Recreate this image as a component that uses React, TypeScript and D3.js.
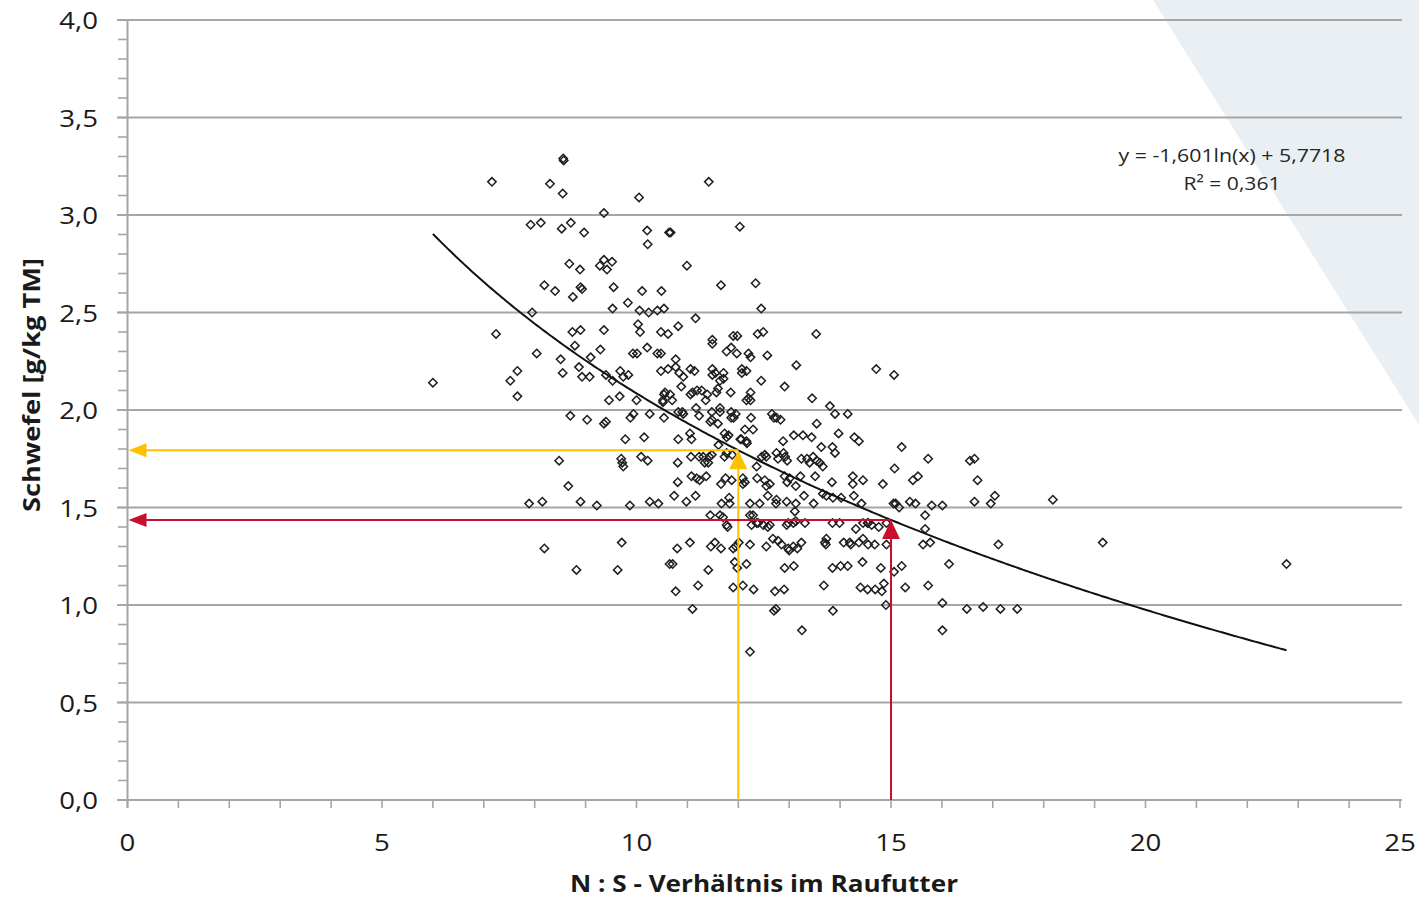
import React from "react";
import * as d3 from "d3";

// N:S ratio (x) and sulfur content g/kg TM (y)
const samples: [number, number][] = [
  [8.56,3.29],[8.57,3.28],[7.16,3.17],[8.30,3.16],[8.55,3.11],[10.05,3.09],[9.36,3.01],[7.92,2.95],[8.12,2.96],[8.53,2.93],
  [8.71,2.96],[8.97,2.91],[10.21,2.92],[10.64,2.91],[10.22,2.85],[8.68,2.75],[8.89,2.72],[9.28,2.74],[9.36,2.77],[9.52,2.76],
  [9.42,2.72],[8.19,2.64],[8.40,2.61],[8.75,2.58],[8.90,2.63],[8.93,2.62],[9.55,2.63],[10.11,2.61],[10.49,2.61],[9.83,2.55],
  [9.53,2.52],[10.06,2.51],[10.24,2.50],[10.41,2.51],[10.54,2.52],[7.95,2.50],[7.24,2.39],[8.74,2.40],[8.90,2.41],[9.36,2.41],
  [10.03,2.44],[10.07,2.40],[10.48,2.40],[10.62,2.39],[8.79,2.33],[8.04,2.29],[8.51,2.26],[9.10,2.27],[9.29,2.31],[9.93,2.29],
  [10.01,2.29],[10.21,2.32],[10.41,2.29],[10.48,2.29],[6.00,2.14],[7.66,2.20],[7.52,2.15],[7.66,2.07],[8.55,2.19],[8.87,2.22],
  [8.93,2.17],[9.08,2.17],[9.40,2.18],[9.53,2.15],[9.68,2.20],[9.74,2.17],[9.84,2.18],[10.48,2.20],[10.62,2.21],[9.46,2.05],
  [9.67,2.07],[10.00,2.05],[10.54,2.08],[10.52,2.04],[8.70,1.97],[9.03,1.95],[9.36,1.93],[9.40,1.94],[9.88,1.96],[9.94,1.98],
  [10.26,1.98],[10.54,1.96],[9.78,1.85],[10.15,1.86],[8.48,1.74],[9.70,1.75],[9.72,1.73],[9.74,1.71],[10.09,1.76],[10.22,1.74],
  [8.66,1.61],[7.89,1.52],[8.15,1.53],[8.90,1.53],[9.22,1.51],[9.87,1.51],[10.26,1.53],[10.43,1.52],[8.19,1.29],[8.82,1.18],
  [9.71,1.32],[9.63,1.18],[10.65,1.21],[11.42,3.17],[10.67,2.91],[12.03,2.94],[10.99,2.74],[11.66,2.64],[12.34,2.65],[12.45,2.52],
  [11.16,2.47],[10.82,2.43],[11.90,2.38],[11.98,2.38],[12.38,2.39],[12.49,2.40],[13.53,2.39],[11.49,2.36],[11.49,2.34],[11.86,2.32],
  [11.77,2.30],[11.97,2.29],[12.20,2.29],[12.24,2.27],[12.57,2.28],[10.77,2.26],[13.14,2.23],[14.71,2.21],[15.06,2.18],[10.77,2.22],
  [10.84,2.19],[11.06,2.21],[11.14,2.20],[10.92,2.17],[11.49,2.21],[11.49,2.18],[11.55,2.19],[11.71,2.19],[11.71,2.16],[12.07,2.21],
  [12.07,2.19],[12.16,2.20],[12.45,2.15],[12.91,2.12],[10.88,2.12],[11.64,2.15],[10.56,2.09],[10.52,2.05],[10.66,2.08],[10.70,2.05],
  [11.06,2.08],[11.10,2.09],[11.19,2.10],[11.28,2.10],[11.39,2.08],[11.36,2.05],[11.60,2.11],[11.57,2.09],[11.85,2.09],[12.24,2.09],
  [12.20,2.06],[12.16,2.05],[12.24,2.05],[13.45,2.06],[13.80,2.02],[13.90,1.98],[14.15,1.98],[11.17,2.01],[11.64,2.01],[11.64,1.99],
  [11.48,1.99],[11.48,1.95],[11.86,1.99],[11.86,1.96],[11.91,1.96],[11.95,1.98],[10.82,1.99],[10.90,1.99],[10.92,1.98],[11.23,1.97],
  [12.25,1.96],[12.66,1.98],[12.70,1.96],[12.75,1.96],[12.83,1.95],[13.54,1.93],[11.45,1.94],[11.60,1.93],[12.29,1.90],[12.13,1.90],
  [12.06,1.85],[12.16,1.84],[11.73,1.88],[11.77,1.86],[11.81,1.87],[11.05,1.88],[11.08,1.85],[10.82,1.85],[13.09,1.87],[13.27,1.87],
  [13.44,1.86],[13.97,1.88],[14.28,1.86],[14.37,1.84],[12.88,1.84],[13.63,1.81],[13.85,1.81],[13.90,1.78],[11.61,1.82],[12.04,1.85],
  [12.17,1.83],[12.52,1.77],[12.55,1.76],[12.46,1.76],[12.75,1.78],[12.78,1.75],[12.92,1.76],[12.96,1.74],[12.89,1.78],[13.24,1.75],
  [13.35,1.75],[13.47,1.76],[13.54,1.74],[13.40,1.73],[13.66,1.71],[13.60,1.73],[15.07,1.70],[10.81,1.73],[11.07,1.76],[11.23,1.76],
  [11.31,1.76],[11.43,1.76],[11.48,1.77],[11.41,1.73],[11.34,1.73],[11.73,1.76],[11.77,1.78],[11.88,1.77],[12.36,1.71],[11.08,1.66],
  [11.18,1.65],[11.24,1.64],[11.37,1.66],[10.81,1.63],[11.66,1.62],[11.75,1.65],[11.87,1.64],[12.09,1.65],[12.13,1.63],[12.09,1.62],
  [12.37,1.65],[12.52,1.64],[12.55,1.61],[12.62,1.62],[12.91,1.66],[13.01,1.65],[12.96,1.63],[13.13,1.61],[13.22,1.66],[13.51,1.66],
  [13.84,1.63],[14.25,1.66],[14.45,1.64],[14.25,1.62],[14.84,1.62],[10.74,1.56],[10.98,1.53],[11.16,1.56],[11.67,1.52],[11.83,1.52],
  [11.82,1.55],[12.23,1.52],[12.42,1.52],[12.58,1.56],[12.75,1.54],[12.74,1.52],[12.95,1.53],[13.13,1.52],[13.29,1.56],[13.48,1.52],
  [13.66,1.57],[13.73,1.56],[13.86,1.55],[14.02,1.55],[14.27,1.56],[14.42,1.52],[15.09,1.52],[11.45,1.46],[11.64,1.46],[11.70,1.45],
  [12.23,1.46],[12.36,1.42],[12.62,1.41],[13.08,1.42],[13.31,1.42],[13.85,1.42],[13.99,1.42],[14.45,1.42],[14.62,1.41],[11.77,1.41],
  [12.29,1.46],[13.11,1.48],[11.79,1.40],[12.26,1.41],[12.39,1.42],[12.49,1.41],[12.58,1.40],[12.95,1.41],[12.98,1.42],[13.13,1.43],
  [14.31,1.39],[14.54,1.42],[14.55,1.42],[14.76,1.40],[14.91,1.42],[10.80,1.29],[11.05,1.32],[11.46,1.30],[11.54,1.32],[11.66,1.29],
  [11.90,1.29],[11.95,1.30],[12.01,1.32],[12.23,1.31],[12.55,1.30],[12.68,1.34],[12.78,1.33],[12.85,1.31],[12.98,1.29],[13.00,1.28],
  [13.08,1.30],[13.16,1.29],[13.24,1.32],[13.70,1.32],[13.73,1.34],[13.72,1.31],[14.07,1.32],[14.19,1.32],[14.21,1.31],[14.37,1.32],
  [14.45,1.34],[14.55,1.31],[14.68,1.31],[14.91,1.31],[10.71,1.21],[11.41,1.18],[11.93,1.22],[11.98,1.19],[12.16,1.21],[12.91,1.19],
  [13.09,1.20],[13.85,1.19],[14.01,1.20],[14.15,1.20],[14.44,1.22],[14.80,1.19],[15.06,1.17],[10.77,1.07],[11.21,1.10],[11.90,1.09],
  [12.09,1.10],[12.30,1.08],[12.72,1.07],[12.90,1.08],[13.68,1.10],[14.40,1.09],[14.54,1.08],[14.69,1.08],[14.82,1.07],[14.86,1.11],
  [11.10,0.98],[12.70,0.97],[12.74,0.98],[13.86,0.97],[14.90,1.00],[13.25,0.87],[12.23,0.76],[15.21,1.81],[15.73,1.75],[15.43,1.64],
  [15.53,1.66],[16.55,1.74],[16.64,1.75],[16.70,1.64],[17.04,1.56],[16.96,1.52],[16.64,1.53],[18.18,1.54],[15.05,1.52],[15.16,1.50],
  [15.37,1.53],[15.48,1.52],[15.80,1.51],[16.01,1.51],[15.67,1.46],[15.67,1.39],[15.63,1.31],[15.77,1.32],[17.11,1.31],[19.16,1.32],
  [16.14,1.21],[15.21,1.20],[15.28,1.09],[15.73,1.10],[16.01,1.01],[16.49,0.98],[16.81,0.99],[17.15,0.98],[17.48,0.98],[16.01,0.87],
  [22.77,1.21],
];

// logarithmic trend line y = a*ln(x) + b
const fitA = -1.601;
const fitB = 5.7718;
const fitRange = [6.0, 22.77];
const equationLines = ["y = -1,601ln(x) + 5,7718", "R² = 0,361"];

// reading examples (x values), arrows go to the trend line
const readings = [
  { x: 12, color: "#FFC000" },
  { x: 15, color: "#C8102E" },
];

const xTicks = [0, 5, 10, 15, 20, 25];
const yTicks = [0, 0.5, 1, 1.5, 2, 2.5, 3, 3.5, 4];
const xTitle = "N : S - Verhältnis im Raufutter";
const yTitle = "Schwefel [g/kg TM]";

const W = 1419;
const H = 899;
const gridColor = "#a6a6a6";
const fmt = (v: number) => (Number.isInteger(v) ? String(v) : v.toFixed(1).replace(".", ","));
const fmtY = (v: number) => v.toFixed(1).replace(".", ",");

export default function App() {
  const x = d3.scaleLinear().domain([0, 25]).range([127.5, 1400]);
  const y = d3.scaleLinear().domain([0, 4]).range([800, 20]);
  const fit = (v: number) => fitA * Math.log(v) + fitB;

  const curveXs = d3.range(fitRange[0], fitRange[1], 0.05).concat([fitRange[1]]);
  const line = d3
    .line<number>()
    .x((d) => x(d))
    .y((d) => y(fit(d)));

  const minorY = d3.range(0, 41).map((i) => i / 10);
  const minorX = d3.range(0, 26);
  const diamond = "M0,-4.2L4.2,0L0,4.2L-4.2,0Z";
  const font = "Open Sans, Lato, sans-serif";

  return (
    <svg
      width={W}
      height={H}
      viewBox={`0 0 ${W} ${H}`}
      style={{ position: "absolute", left: 0, top: 0, display: "block", background: "#fff" }}
    >
      <polygon points={`1153,0 ${W},0 ${W},425`} fill="#e9eff3" />

      {/* grid lines */}
      {yTicks.map((t) => (
        <line key={"g" + t} x1={117} x2={1402} y1={y(t)} y2={y(t)} stroke={gridColor} strokeWidth={2} />
      ))}
      {/* y axis */}
      <line x1={x(0)} x2={x(0)} y1={y(4)} y2={y(0) + 8} stroke={gridColor} strokeWidth={2} />
      {minorY.map((t) => (
        <line key={"my" + t} x1={118} x2={x(0)} y1={y(t)} y2={y(t)} stroke={gridColor} strokeWidth={1.6} />
      ))}
      {minorX.map((t) => (
        <line key={"mx" + t} x1={x(t)} x2={x(t)} y1={y(0)} y2={y(0) + 8} stroke={gridColor} strokeWidth={1.6} />
      ))}

      {/* tick labels */}
      {yTicks.map((t) => (
        <text
          key={"yl" + t}
          transform={`translate(98,${y(t) + 9}) scale(1.15,1)`}
          textAnchor="end"
          fontFamily={font}
          fontSize={24}
          fill="#1a1a1a"
        >
          {fmtY(t)}
        </text>
      ))}
      {xTicks.map((t) => (
        <text
          key={"xl" + t}
          transform={`translate(${x(t)},851) scale(1.15,1)`}
          textAnchor="middle"
          fontFamily={font}
          fontSize={24}
          fill="#1a1a1a"
        >
          {fmt(t)}
        </text>
      ))}

      {/* axis titles */}
      <text
        x={764}
        y={892}
        textAnchor="middle"
        fontFamily={font}
        fontWeight="bold"
        fontSize={24}
        fill="#1a1a1a"
        textLength={388}
        lengthAdjust="spacingAndGlyphs"
      >
        {xTitle}
      </text>
      <text
        transform={`translate(40,385) rotate(-90)`}
        textAnchor="middle"
        fontFamily={font}
        fontWeight="bold"
        fontSize={24}
        fill="#1a1a1a"
        textLength={254}
        lengthAdjust="spacingAndGlyphs"
      >
        {yTitle}
      </text>

      {/* data points */}
      <g fill="none" stroke="#1f1f1f" strokeWidth={1.5}>
        {samples.map((d, i) => (
          <path key={i} d={diamond} transform={`translate(${x(d[0])},${y(d[1])})`} />
        ))}
      </g>

      {/* trend line */}
      <path d={line(curveXs) || ""} fill="none" stroke="#111" strokeWidth={2} />

      {/* reading arrows */}
      {readings.map((r) => {
        const px = x(r.x);
        const py = y(fit(r.x));
        const left = x(0) + 1;
        return (
          <g key={r.x}>
            <line x1={px} x2={left + 16} y1={py} y2={py} stroke={r.color} strokeWidth={2} />
            <polygon points={`${left},${py} ${left + 18},${py - 7} ${left + 18},${py + 7}`} fill={r.color} />
            <line x1={px} x2={px} y1={y(0)} y2={py + 16} stroke={r.color} strokeWidth={2} />
            <polygon points={`${px},${py} ${px - 9},${py + 19} ${px + 9},${py + 19}`} fill={r.color} />
          </g>
        );
      })}

      {/* equation */}
      {equationLines.map((s, i) => (
        <text
          key={s}
          x={1232}
          y={162 + i * 28}
          textAnchor="middle"
          fontFamily={font}
          fontSize={19}
          fill="#262626"
          textLength={i === 0 ? 227 : 97}
          lengthAdjust="spacingAndGlyphs"
        >
          {s}
        </text>
      ))}
    </svg>
  );
}
